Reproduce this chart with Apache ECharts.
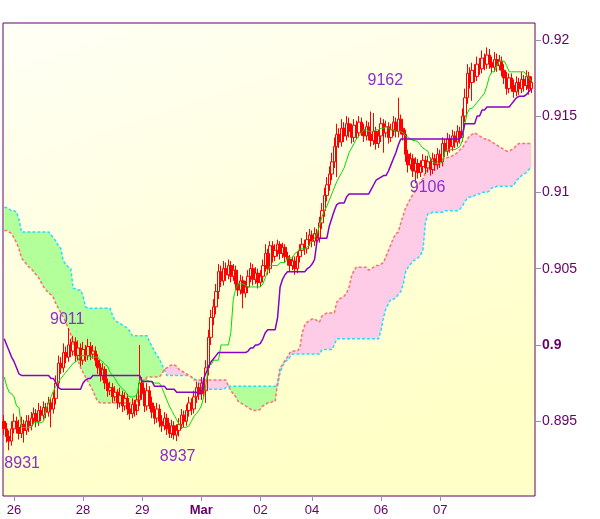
<!DOCTYPE html>
<html><head><meta charset="utf-8">
<script src="https://cdn.jsdelivr.net/npm/echarts@6/dist/echarts.min.js"></script>
<style>html,body{margin:0;padding:0;background:#fff}#c{width:600px;height:519px}</style>
</head><body><div id="c"></div>
<script>
// ---- data (hourly bars) ----
const tickIndex = [4, 32, 56, 80, 104, 125, 153, 177];
const tickLabels = ['26', '28', '29', 'Mar', '02', '04', '06', '07'];
const yTicks = [0.895, 0.9, 0.905, 0.91, 0.915, 0.92];

const opens = [
0.8950,0.8945,0.8940,0.8937,0.8945,0.8950,0.8946,0.8942,0.8948,0.8944,
0.8950,0.8947,0.8952,0.8955,0.8950,0.8957,0.8954,0.8959,0.8956,0.8962,
0.8958,0.8965,0.8975,0.8988,0.8985,0.8995,0.8992,0.9000,0.8996,0.9002,
0.8993,0.8998,0.8990,0.8997,0.8993,0.8999,0.8994,0.8996,0.8990,0.8985,
0.8980,0.8984,0.8975,0.8970,0.8972,0.8966,0.8969,0.8962,0.8967,0.8960,
0.8965,0.8958,0.8955,0.8961,0.8957,0.8964,0.8975,0.8968,0.8960,0.8970,
0.8962,0.8956,0.8952,0.8958,0.8950,0.8947,0.8952,0.8945,0.8942,0.8947,
0.8941,0.8944,0.8948,0.8954,0.8950,0.8957,0.8962,0.8958,0.8966,0.8972,
0.8968,0.8975,0.8970,0.8985,0.9005,0.9018,0.9025,0.9035,0.9048,0.9042,
0.9050,0.9046,0.9052,0.9045,0.9049,0.9040,0.9036,0.9042,0.9034,0.9038,
0.9045,0.9050,0.9043,0.9047,0.9041,0.9045,0.9052,0.9060,0.9050,0.9065,
0.9058,0.9062,0.9066,0.9060,0.9064,0.9058,0.9056,0.9052,0.9055,0.9050,
0.9058,0.9062,0.9066,0.9063,0.9069,0.9072,0.9068,0.9073,0.9070,0.9080,
0.9088,0.9098,0.9105,0.9112,0.9120,0.9130,0.9138,0.9133,0.9142,0.9137,
0.9145,0.9140,0.9136,0.9144,0.9139,0.9146,0.9141,0.9137,0.9143,0.9138,
0.9134,0.9140,0.9132,0.9137,0.9145,0.9139,0.9143,0.9136,0.9141,0.9146,
0.9140,0.9148,0.9142,0.9138,0.9125,0.9118,0.9122,0.9114,0.9119,0.9113,
0.9117,0.9121,0.9116,0.9120,0.9115,0.9122,0.9118,0.9125,0.9120,0.9132,
0.9127,0.9135,0.9130,0.9137,0.9133,0.9140,0.9136,0.9150,0.9162,0.9178,
0.9172,0.9180,0.9176,0.9184,0.9181,0.9188,0.9184,0.9190,0.9185,0.9182,
0.9187,0.9183,0.9186,0.9180,0.9175,0.9168,0.9175,0.9170,0.9166,0.9172,
0.9168,0.9174,0.9170,0.9176,0.9168];

const closes = [
0.8945,0.8940,0.8937,0.8945,0.8950,0.8946,0.8942,0.8948,0.8944,0.8950,
0.8947,0.8952,0.8955,0.8950,0.8957,0.8954,0.8959,0.8956,0.8962,0.8958,
0.8965,0.8975,0.8988,0.8985,0.8995,0.8992,0.9000,0.8996,0.9002,0.8993,
0.8998,0.8990,0.8997,0.8993,0.8999,0.8994,0.8996,0.8990,0.8985,0.8980,
0.8984,0.8975,0.8970,0.8972,0.8966,0.8969,0.8962,0.8967,0.8960,0.8965,
0.8958,0.8955,0.8961,0.8957,0.8964,0.8975,0.8968,0.8960,0.8970,0.8962,
0.8956,0.8952,0.8958,0.8950,0.8947,0.8952,0.8945,0.8942,0.8947,0.8941,
0.8944,0.8948,0.8954,0.8950,0.8957,0.8962,0.8958,0.8966,0.8972,0.8968,
0.8975,0.8970,0.8985,0.9005,0.9018,0.9025,0.9035,0.9048,0.9042,0.9050,
0.9046,0.9052,0.9045,0.9049,0.9040,0.9036,0.9042,0.9034,0.9038,0.9045,
0.9050,0.9043,0.9047,0.9041,0.9045,0.9052,0.9060,0.9050,0.9065,0.9058,
0.9062,0.9066,0.9060,0.9064,0.9058,0.9056,0.9052,0.9055,0.9050,0.9058,
0.9062,0.9066,0.9063,0.9069,0.9072,0.9068,0.9073,0.9070,0.9080,0.9088,
0.9098,0.9105,0.9112,0.9120,0.9130,0.9138,0.9133,0.9142,0.9137,0.9145,
0.9140,0.9136,0.9144,0.9139,0.9146,0.9141,0.9137,0.9143,0.9138,0.9134,
0.9140,0.9132,0.9137,0.9145,0.9139,0.9143,0.9136,0.9141,0.9146,0.9140,
0.9148,0.9142,0.9138,0.9125,0.9118,0.9122,0.9114,0.9119,0.9113,0.9117,
0.9121,0.9116,0.9120,0.9115,0.9122,0.9118,0.9125,0.9120,0.9132,0.9127,
0.9135,0.9130,0.9137,0.9133,0.9140,0.9136,0.9150,0.9162,0.9178,0.9172,
0.9180,0.9176,0.9184,0.9181,0.9188,0.9184,0.9190,0.9185,0.9182,0.9187,
0.9183,0.9186,0.9180,0.9175,0.9168,0.9175,0.9170,0.9166,0.9172,0.9168,
0.9174,0.9170,0.9176,0.9168,0.9172];

const highs = [
0.8954,0.8949,0.8944,0.8950,0.8955,0.8953,0.8951,0.8953,0.8951,0.8954,
0.8954,0.8956,0.8959,0.8958,0.8962,0.8960,0.8963,0.8962,0.8966,0.8965,
0.8969,0.8980,0.8993,0.8992,0.9001,0.8999,0.9011,0.9004,0.9006,0.9005,
0.9003,0.9001,0.9002,0.9000,0.9004,0.9002,0.9000,0.8999,0.8994,0.8988,
0.8988,0.8986,0.8978,0.8976,0.8975,0.8973,0.8971,0.8972,0.8970,0.8969,
0.8968,0.8962,0.8965,0.8964,0.8968,0.9000,0.8979,0.8972,0.8975,0.8973,
0.8966,0.8960,0.8962,0.8961,0.8954,0.8956,0.8955,0.8949,0.8951,0.8950,
0.8948,0.8952,0.8958,0.8957,0.8961,0.8966,0.8965,0.8970,0.8976,0.8975,
0.8979,0.8978,0.8990,0.9010,0.9023,0.9030,0.9040,0.9053,0.9052,0.9055,
0.9054,0.9056,0.9055,0.9053,0.9052,0.9044,0.9046,0.9045,0.9042,0.9049,
0.9054,0.9053,0.9051,0.9050,0.9049,0.9056,0.9066,0.9063,0.9068,0.9068,
0.9066,0.9069,0.9068,0.9067,0.9066,0.9061,0.9059,0.9058,0.9058,0.9061,
0.9066,0.9070,0.9069,0.9074,0.9076,0.9075,0.9077,0.9076,0.9084,0.9093,
0.9103,0.9110,0.9117,0.9126,0.9136,0.9145,0.9142,0.9148,0.9146,0.9150,
0.9149,0.9145,0.9148,0.9147,0.9150,0.9149,0.9145,0.9147,0.9146,0.9153,
0.9152,0.9143,0.9141,0.9149,0.9148,0.9147,0.9146,0.9145,0.9150,0.9149,
0.9162,0.9151,0.9145,0.9141,0.9128,0.9126,0.9125,0.9123,0.9122,0.9121,
0.9125,0.9124,0.9124,0.9123,0.9126,0.9125,0.9129,0.9128,0.9136,0.9135,
0.9139,0.9138,0.9141,0.9140,0.9144,0.9143,0.9155,0.9168,0.9184,0.9182,
0.9185,0.9184,0.9189,0.9188,0.9193,0.9191,0.9195,0.9194,0.9189,0.9192,
0.9191,0.9190,0.9189,0.9184,0.9179,0.9178,0.9178,0.9174,0.9176,0.9175,
0.9179,0.9177,0.9180,0.9179,0.9176];

const lows = [
0.8941,0.8936,0.8931,0.8934,0.8942,0.8942,0.8938,0.8939,0.8936,0.8941,
0.8943,0.8944,0.8948,0.8946,0.8947,0.8950,0.8951,0.8952,0.8953,0.8946,
0.8955,0.8961,0.8972,0.8981,0.8982,0.8988,0.8989,0.8992,0.8993,0.8989,
0.8990,0.8986,0.8987,0.8989,0.8990,0.8990,0.8991,0.8986,0.8981,0.8976,
0.8977,0.8971,0.8966,0.8967,0.8962,0.8963,0.8958,0.8959,0.8956,0.8957,
0.8954,0.8951,0.8952,0.8953,0.8954,0.8960,0.8964,0.8956,0.8957,0.8958,
0.8952,0.8948,0.8949,0.8946,0.8943,0.8944,0.8941,0.8939,0.8939,0.8938,
0.8937,0.8940,0.8945,0.8946,0.8947,0.8953,0.8954,0.8955,0.8962,0.8964,
0.8964,0.8966,0.8962,0.8980,0.9000,0.9013,0.9020,0.9030,0.9038,0.9039,
0.9042,0.9043,0.9041,0.9042,0.9036,0.9032,0.9033,0.9024,0.9031,0.9034,
0.9041,0.9039,0.9040,0.9037,0.9038,0.9041,0.9048,0.9046,0.9047,0.9054,
0.9055,0.9058,0.9056,0.9057,0.9054,0.9052,0.9048,0.9049,0.9046,0.9047,
0.9054,0.9058,0.9059,0.9060,0.9065,0.9064,0.9065,0.9066,0.9067,0.9076,
0.9084,0.9094,0.9101,0.9108,0.9116,0.9110,0.9129,0.9130,0.9133,0.9134,
0.9136,0.9132,0.9133,0.9135,0.9136,0.9137,0.9133,0.9134,0.9134,0.9130,
0.9131,0.9128,0.9129,0.9133,0.9126,0.9136,0.9132,0.9133,0.9137,0.9136,
0.9136,0.9138,0.9134,0.9120,0.9113,0.9115,0.9110,0.9106,0.9109,0.9110,
0.9113,0.9112,0.9113,0.9111,0.9112,0.9114,0.9115,0.9116,0.9117,0.9123,
0.9124,0.9126,0.9127,0.9129,0.9130,0.9132,0.9133,0.9146,0.9158,0.9168,
0.9160,0.9172,0.9173,0.9177,0.9178,0.9180,0.9181,0.9181,0.9178,0.9179,
0.9179,0.9180,0.9176,0.9171,0.9164,0.9165,0.9166,0.9162,0.9163,0.9164,
0.9165,0.9166,0.9167,0.9164,0.9165];

const tenkan = [
0.8979,0.8973,0.8969,0.8968,0.8966,0.8960,0.8959,0.8946,0.8946,0.8946,
0.8946,0.8946,0.8949,0.8949,0.8949,0.8949,0.8950,0.8958,0.8962,0.8966,
0.8970,0.8973,0.8976,0.8978,0.8980,0.8982,0.8984,0.8986,0.8988,0.8989,
0.8990,0.8993,0.8993,0.8993,0.8993,0.8992,0.8992,0.8992,0.8992,0.8990,
0.8989,0.8987,0.8986,0.8982,0.8980,0.8978,0.8975,0.8973,0.8971,0.8970,
0.8967,0.8966,0.8966,0.8966,0.8968,0.8977,0.8977,0.8977,0.8977,0.8976,
0.8976,0.8975,0.8975,0.8975,0.8972,0.8968,0.8964,0.8960,0.8957,0.8954,
0.8951,0.8948,0.8946,0.8946,0.8946,0.8947,0.8950,0.8953,0.8955,0.8957,
0.8960,0.8966,0.8975,0.8987,0.8987,0.8990,0.8990,0.8990,0.9000,0.9000,
0.9000,0.9000,0.9008,0.9030,0.9037,0.9040,0.9040,0.9040,0.9039,0.9038,
0.9038,0.9038,0.9038,0.9038,0.9038,0.9040,0.9044,0.9049,0.9052,0.9052,
0.9052,0.9052,0.9054,0.9054,0.9054,0.9057,0.9057,0.9057,0.9060,0.9061,
0.9063,0.9063,0.9063,0.9064,0.9066,0.9068,0.9070,0.9073,0.9078,0.9084,
0.9088,0.9091,0.9095,0.9099,0.9103,0.9107,0.9110,0.9113,0.9116,0.9121,
0.9126,0.9129,0.9132,0.9135,0.9137,0.9139,0.9141,0.9141,0.9140,0.9140,
0.9140,0.9141,0.9141,0.9142,0.9142,0.9143,0.9142,0.9141,0.9141,0.9140,
0.9140,0.9140,0.9139,0.9137,0.9136,0.9135,0.9134,0.9134,0.9133,0.9131,
0.9129,0.9128,0.9127,0.9122,0.9120,0.9119,0.9119,0.9119,0.9120,0.9127,
0.9128,0.9128,0.9128,0.9128,0.9129,0.9130,0.9134,0.9145,0.9152,0.9155,
0.9155,0.9157,0.9159,0.9161,0.9163,0.9165,0.9170,0.9176,0.9179,0.9179,
0.9183,0.9186,0.9186,0.9186,0.9183,0.9179,0.9179,0.9179,0.9179,0.9179,
0.9179,0.9179,0.9177,0.9175,0.9173];

const kijun = [
0.9004,0.9000,0.8996,0.8992,0.8989,0.8985,0.8981,0.8980,0.8980,0.8980,
0.8980,0.8980,0.8980,0.8980,0.8980,0.8980,0.8980,0.8980,0.8980,0.8978,
0.8978,0.8975,0.8972,0.8971,0.8971,0.8971,0.8971,0.8971,0.8971,0.8971,
0.8971,0.8971,0.8975,0.8977,0.8978,0.8978,0.8980,0.8980,0.8980,0.8980,
0.8980,0.8980,0.8980,0.8980,0.8980,0.8980,0.8980,0.8980,0.8980,0.8980,
0.8980,0.8980,0.8980,0.8980,0.8980,0.8980,0.8976,0.8976,0.8976,0.8976,
0.8976,0.8973,0.8973,0.8973,0.8973,0.8973,0.8971,0.8971,0.8971,0.8971,
0.8969,0.8969,0.8969,0.8969,0.8969,0.8969,0.8969,0.8969,0.8969,0.8968,
0.8968,0.8978,0.8982,0.8986,0.8989,0.8991,0.8993,0.8995,0.8995,0.8995,
0.8995,0.8995,0.8995,0.8995,0.8995,0.8995,0.8995,0.8995,0.8995,0.8996,
0.8998,0.8998,0.9000,0.9000,0.9001,0.9004,0.9008,0.9010,0.9010,0.9010,
0.9010,0.9018,0.9038,0.9043,0.9046,0.9048,0.9048,0.9048,0.9048,0.9048,
0.9048,0.9048,0.9048,0.9050,0.9051,0.9053,0.9056,0.9068,0.9070,0.9070,
0.9070,0.9070,0.9078,0.9083,0.9088,0.9092,0.9093,0.9093,0.9093,0.9097,
0.9099,0.9099,0.9099,0.9099,0.9099,0.9099,0.9099,0.9099,0.9099,0.9102,
0.9105,0.9108,0.9109,0.9110,0.9111,0.9111,0.9114,0.9118,0.9122,0.9126,
0.9131,0.9135,0.9135,0.9135,0.9135,0.9135,0.9135,0.9135,0.9135,0.9135,
0.9135,0.9135,0.9135,0.9135,0.9135,0.9135,0.9135,0.9135,0.9135,0.9135,
0.9135,0.9135,0.9135,0.9135,0.9135,0.9135,0.9138,0.9145,0.9145,0.9145,
0.9145,0.9145,0.9150,0.9150,0.9154,0.9154,0.9156,0.9156,0.9156,0.9156,
0.9156,0.9156,0.9156,0.9156,0.9156,0.9156,0.9158,0.9160,0.9162,0.9163,
0.9163,0.9163,0.9164,0.9166,0.9168];

const senkouA = [
0.9090,0.9090,0.9089,0.9088,0.9088,0.9087,0.9082,0.9074,0.9074,0.9074,
0.9074,0.9074,0.9074,0.9074,0.9074,0.9074,0.9074,0.9074,0.9074,0.9072,
0.9070,0.9068,0.9065,0.9063,0.9055,0.9053,0.9051,0.9050,0.9037,0.9037,
0.9036,0.9036,0.9032,0.9025,0.9024,0.9024,0.9024,0.9024,0.9024,0.9024,
0.9024,0.9024,0.9024,0.9024,0.9019,0.9016,0.9015,0.9014,0.9013,0.9012,
0.9011,0.9009,0.9006,0.9006,0.9006,0.9006,0.9006,0.9006,0.9006,0.9002,
0.8999,0.8996,0.8993,0.8991,0.8987,0.8984,0.8980,0.8980,0.8980,0.8980,
0.8980,0.8980,0.8980,0.8980,0.8980,0.8980,0.8979,0.8978,0.8977,0.8975,
0.8972,0.8971,0.8971,0.8971,0.8971,0.8971,0.8971,0.8971,0.8971,0.8971,
0.8972,0.8973,0.8973,0.8973,0.8973,0.8973,0.8973,0.8973,0.8973,0.8973,
0.8973,0.8973,0.8973,0.8973,0.8973,0.8973,0.8973,0.8973,0.8973,0.8973,
0.8973,0.8973,0.8982,0.8986,0.8989,0.8990,0.8992,0.8994,0.8994,0.8994,
0.8994,0.8994,0.8994,0.8994,0.8994,0.8994,0.8994,0.8994,0.8994,0.8997,
0.8997,0.8997,0.8997,0.8997,0.9000,0.9004,0.9004,0.9004,0.9004,0.9004,
0.9004,0.9004,0.9004,0.9004,0.9004,0.9004,0.9004,0.9004,0.9004,0.9004,
0.9004,0.9004,0.9004,0.9010,0.9018,0.9024,0.9027,0.9030,0.9030,0.9031,
0.9033,0.9035,0.9040,0.9048,0.9051,0.9053,0.9055,0.9056,0.9057,0.9059,
0.9062,0.9080,0.9086,0.9086,0.9087,0.9087,0.9087,0.9087,0.9087,0.9088,
0.9088,0.9088,0.9088,0.9088,0.9088,0.9089,0.9091,0.9094,0.9096,0.9097,
0.9097,0.9098,0.9099,0.9099,0.9100,0.9100,0.9100,0.9101,0.9103,0.9103,
0.9104,0.9104,0.9104,0.9104,0.9104,0.9104,0.9104,0.9105,0.9108,0.9109,
0.9111,0.9112,0.9113,0.9115,0.9116];

const senkouB = [
0.9075,0.9075,0.9074,0.9073,0.9070,0.9067,0.9063,0.9057,0.9055,0.9053,
0.9051,0.9050,0.9048,0.9046,0.9044,0.9041,0.9038,0.9036,0.9034,0.9033,
0.9031,0.9027,0.9024,0.9021,0.9018,0.9015,0.9011,0.9007,0.9001,0.8995,
0.8990,0.8985,0.8982,0.8979,0.8976,0.8973,0.8970,0.8966,0.8963,0.8962,
0.8962,0.8962,0.8962,0.8962,0.8962,0.8962,0.8962,0.8962,0.8962,0.8962,
0.8962,0.8962,0.8962,0.8962,0.8962,0.8966,0.8974,0.8977,0.8979,0.8979,
0.8979,0.8979,0.8979,0.8979,0.8981,0.8984,0.8985,0.8986,0.8987,0.8987,
0.8986,0.8984,0.8983,0.8982,0.8981,0.8980,0.8979,0.8977,0.8977,0.8977,
0.8977,0.8977,0.8977,0.8977,0.8977,0.8977,0.8977,0.8977,0.8977,0.8977,
0.8977,0.8973,0.8970,0.8968,0.8966,0.8963,0.8962,0.8961,0.8960,0.8959,
0.8958,0.8957,0.8957,0.8957,0.8958,0.8960,0.8961,0.8962,0.8962,0.8963,
0.8963,0.8976,0.8985,0.8987,0.8990,0.8992,0.8995,0.8996,0.8996,0.8996,
0.8998,0.9008,0.9013,0.9015,0.9016,0.9017,0.9017,0.9016,0.9015,0.9019,
0.9020,0.9021,0.9021,0.9021,0.9021,0.9028,0.9030,0.9031,0.9032,0.9034,
0.9038,0.9045,0.9049,0.9051,0.9051,0.9051,0.9051,0.9051,0.9049,0.9050,
0.9051,0.9052,0.9052,0.9053,0.9054,0.9058,0.9062,0.9066,0.9070,0.9073,
0.9074,0.9080,0.9085,0.9090,0.9093,0.9096,0.9099,0.9101,0.9104,0.9107,
0.9109,0.9113,0.9115,0.9116,0.9117,0.9119,0.9120,0.9121,0.9122,0.9122,
0.9123,0.9123,0.9124,0.9125,0.9126,0.9128,0.9129,0.9132,0.9135,0.9137,
0.9138,0.9139,0.9138,0.9137,0.9136,0.9135,0.9135,0.9134,0.9133,0.9132,
0.9131,0.9130,0.9129,0.9128,0.9127,0.9127,0.9128,0.9129,0.9131,0.9132,
0.9132,0.9132,0.9132,0.9132,0.9132];

const pivotIndex = [2, 26, 70, 160, 167];
const pivotValue = [0.8931, 0.9011, 0.8937, 0.9162, 0.9106];
const pivotText  = ['8931', '9011', '8937', '9162', '9106'];
const lastPrice = 0.9172;

// ---- build options ----
const N = 216;
const categories = [];
for (let i = 0; i < N; i++) categories.push(String(i));
const candles = opens.map((o, i) => [o, closes[i], lows[i], highs[i]]);
const cloudBase = senkouA.map((a, i) => Math.min(a, senkouB[i]));
const cloudGreen = senkouA.map((a, i) => Math.max(a - senkouB[i], 0));
const cloudPink = senkouA.map((a, i) => Math.max(senkouB[i] - a, 0));

const labelOffsets = [[13, 13], [-1, -9], [1, 16], [-13, -17], [12, 4]];
const FONT = 'Liberation Sans, Arial, sans-serif';
const PURPLE = '#660066';

const chart = echarts.init(document.getElementById('c'), null, {renderer: 'canvas'});
chart.setOption({
  animation: false,
  backgroundColor: '#ffffff',
  grid: {
    left: 3, right: 65, top: 23, bottom: 23, show: true,
    borderColor: PURPLE, borderWidth: 1,
    backgroundColor: new echarts.graphic.LinearGradient(0, 0, 0.3, 1, [
      {offset: 0, color: '#fffff6'}, {offset: 1, color: '#ffffc8'}])
  },
  xAxis: {
    type: 'category', data: categories, boundaryGap: true,
    axisLine: {show: false},
    axisTick: {show: true, alignWithLabel: true, length: 5,
      interval: (i) => tickIndex.indexOf(i) >= 0,
      lineStyle: {color: '#8899aa'}},
    axisLabel: {
      interval: (i) => tickIndex.indexOf(i) >= 0,
      margin: 8, color: PURPLE, fontSize: 13, fontFamily: FONT,
      formatter: (v, i) => {
        const k = tickIndex.indexOf(i);
        if (k < 0) return '';
        return tickLabels[k] === 'Mar' ? '{b|Mar}' : tickLabels[k];
      },
      rich: {b: {fontWeight: 'bold', color: PURPLE, fontSize: 13, fontFamily: FONT}}
    },
    splitLine: {show: false}
  },
  yAxis: {
    type: 'value', position: 'right', min: 0.8901, max: 0.9211, scale: true,
    axisLine: {show: false},
    splitLine: {show: false},
    axisTick: {show: true, length: 6, lineStyle: {color: '#8899aa'}, customValues: yTicks},
    axisLabel: {
      customValues: yTicks, margin: 7, color: PURPLE, fontSize: 14, fontFamily: FONT,
      formatter: (v) => (Math.abs(v - 0.9) < 1e-9 ? '{b|0.9}' : String(+v.toFixed(4))),
      rich: {b: {fontWeight: 'bold', color: PURPLE, fontSize: 14, fontFamily: FONT}}
    }
  },
  series: [
    {name: 'cloudBase', type: 'line', stack: 'cloud', data: cloudBase, showSymbol: false,
     silent: true, lineStyle: {opacity: 0, width: 0}, z: 1},
    {name: 'cloudGreen', type: 'line', stack: 'cloud', data: cloudGreen, showSymbol: false,
     silent: true, lineStyle: {opacity: 0, width: 0}, areaStyle: {color: '#b3ff99', opacity: 1}, z: 1},
    {name: 'cloudPink', type: 'line', stack: 'cloud', data: cloudPink, showSymbol: false,
     silent: true, lineStyle: {opacity: 0, width: 0}, areaStyle: {color: '#ffcce8', opacity: 1}, z: 1},
    {name: 'SenkouA', type: 'line', data: senkouA, showSymbol: false, silent: true,
     lineStyle: {color: '#22ddff', width: 1.5, type: [3, 2]}, z: 2},
    {name: 'SenkouB', type: 'line', data: senkouB, showSymbol: false, silent: true,
     lineStyle: {color: '#ff6f6f', width: 1.5, type: [3, 2]}, z: 2},
    {name: 'Price', type: 'candlestick', data: candles, barWidth: 3, z: 3,
     itemStyle: {color: 'rgba(255,255,255,0)', color0: '#ff0000',
       borderColor: '#ff0000', borderColor0: '#ff0000', borderWidth: 1},
     markPoint: {
       symbol: 'circle', symbolSize: 1, silent: true,
       itemStyle: {color: 'rgba(0,0,0,0)'},
       data: pivotIndex.map((idx, k) => ({
         coord: [idx, pivotValue[k]], value: pivotText[k],
         label: {show: true, position: 'inside', offset: labelOffsets[k],
           formatter: pivotText[k], color: '#8a2fc8', fontSize: 16, fontFamily: FONT}
       }))
     },
     markLine: {
       symbol: ['none', 'none'], silent: true,
       lineStyle: {opacity: 0},
       data: [{yAxis: lastPrice}],
       label: {show: true, position: 'end', distance: 5, formatter: String(lastPrice),
         color: '#000', fontSize: 14, fontFamily: FONT, padding: [2, 1, 1, 2],
         borderColor: '#8899aa', borderWidth: 1,
         backgroundColor: new echarts.graphic.LinearGradient(0, 0, 0, 1, [
           {offset: 0, color: '#ffee33'}, {offset: 1, color: '#ffbb00'}])}
     }},
    {name: 'Tenkan', type: 'line', data: tenkan, showSymbol: false, silent: true,
     lineStyle: {color: '#00dd00', width: 1}, z: 4},
    {name: 'Kijun', type: 'line', data: kijun, showSymbol: false, silent: true,
     lineStyle: {color: '#8800cc', width: 1.5}, z: 4}
  ]
});
</script>
</body></html>
